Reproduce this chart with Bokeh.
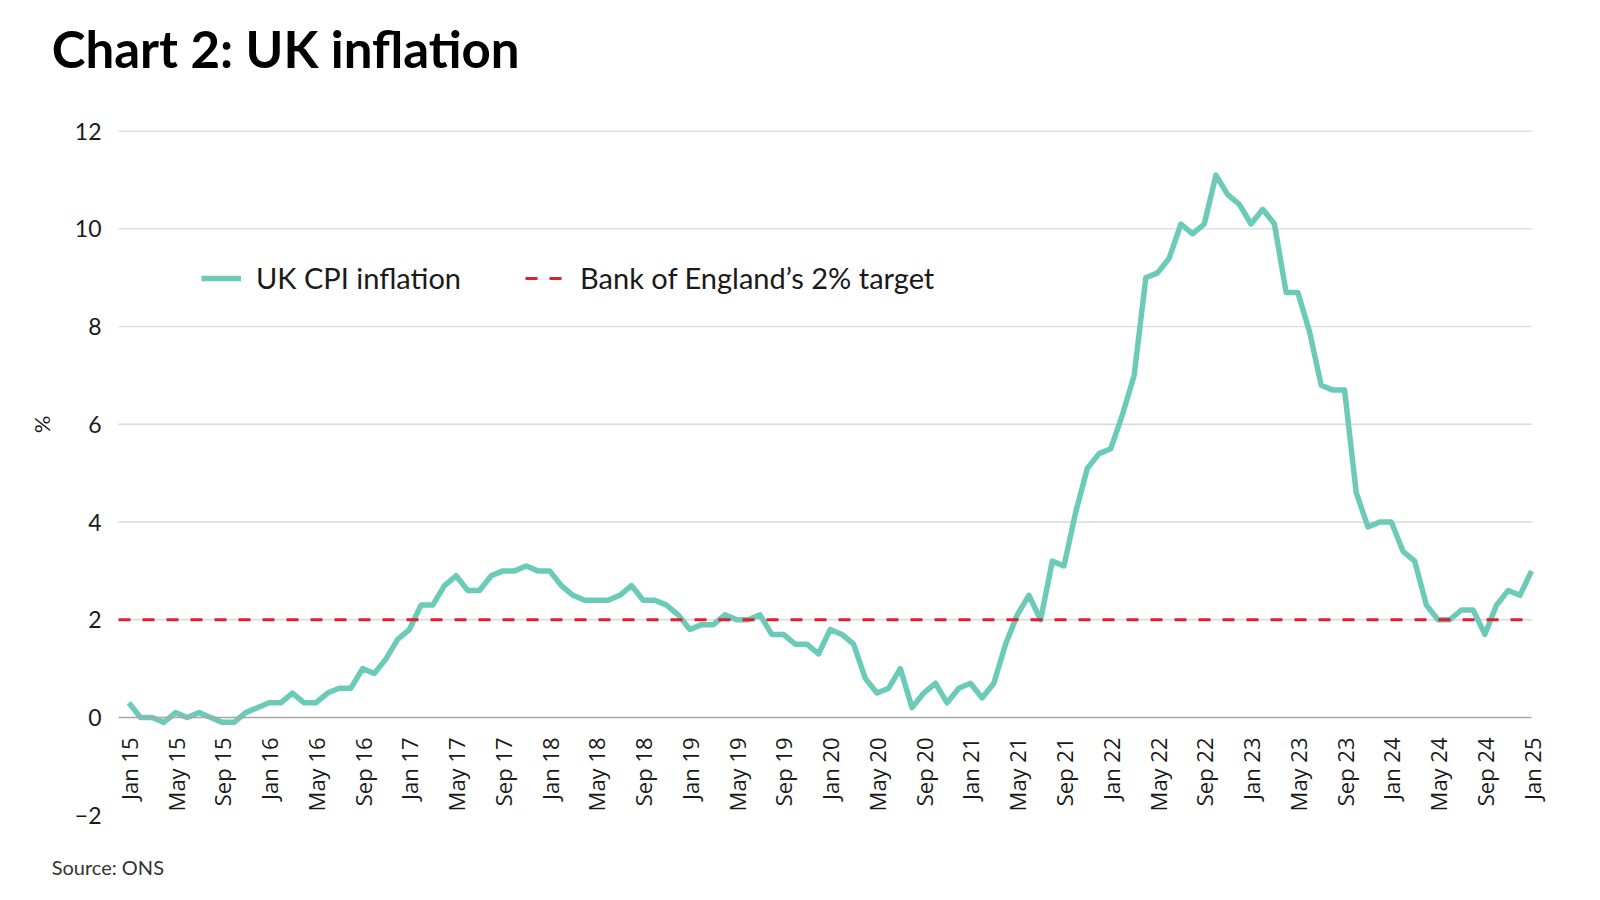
import math
from bokeh.plotting import figure
from bokeh.models import Range1d, FixedTicker, Legend, LegendItem, Label
from bokeh.embed import file_html
from bokeh.resources import INLINE

# ---------------- data ----------------
month_names = ["Jan", "Feb", "Mar", "Apr", "May", "Jun",
               "Jul", "Aug", "Sep", "Oct", "Nov", "Dec"]
years = list(range(2015, 2026))

cpi_2015 = [0.3, 0.0, 0.0, -0.1, 0.1, 0.0, 0.1, 0.0, -0.1, -0.1, 0.1, 0.2]
cpi_2016 = [0.3, 0.3, 0.5, 0.3, 0.3, 0.5, 0.6, 0.6, 1.0, 0.9, 1.2, 1.6]
cpi_2017 = [1.8, 2.3, 2.3, 2.7, 2.9, 2.6, 2.6, 2.9, 3.0, 3.0, 3.1, 3.0]
cpi_2018 = [3.0, 2.7, 2.5, 2.4, 2.4, 2.4, 2.5, 2.7, 2.4, 2.4, 2.3, 2.1]
cpi_2019 = [1.8, 1.9, 1.9, 2.1, 2.0, 2.0, 2.1, 1.7, 1.7, 1.5, 1.5, 1.3]
cpi_2020 = [1.8, 1.7, 1.5, 0.8, 0.5, 0.6, 1.0, 0.2, 0.5, 0.7, 0.3, 0.6]
cpi_2021 = [0.7, 0.4, 0.7, 1.5, 2.1, 2.5, 2.0, 3.2, 3.1, 4.2, 5.1, 5.4]
cpi_2022 = [5.5, 6.2, 7.0, 9.0, 9.1, 9.4, 10.1, 9.9, 10.1, 11.1, 10.7, 10.5]
cpi_2023 = [10.1, 10.4, 10.1, 8.7, 8.7, 7.9, 6.8, 6.7, 6.7, 4.6, 3.9, 4.0]
cpi_2024 = [4.0, 3.4, 3.2, 2.3, 2.0, 2.0, 2.2, 2.2, 1.7, 2.3, 2.6, 2.5]
cpi_2025 = [3.0]

cpi = (cpi_2015 + cpi_2016 + cpi_2017 + cpi_2018 + cpi_2019 + cpi_2020 +
       cpi_2021 + cpi_2022 + cpi_2023 + cpi_2024 + cpi_2025)

months = [f"{m} {y % 100:02d}" for y in years for m in month_names][:len(cpi)]
month_idx = list(range(len(cpi)))

target = 2.0
target_label = "Bank of England\u2019s 2% target"
cpi_label = "UK CPI inflation"

y_ticks = [-2, 0, 2, 4, 6, 8, 10, 12]
grid_ticks = [2, 4, 6, 8, 10, 12]
x_tick_step = 4
x_ticks = list(range(0, len(cpi), x_tick_step))

title_text = "Chart 2: UK inflation"
source_text = "Source: ONS"
y_title = "%"

# ---------------- layout / styles ----------------
TEAL = "#6CCBB8"
RED = "#E31E2D"
TEXT = "#1a1a1a"
W, H = 1584, 896
# the frame covers the whole canvas; the plotting area runs from
# x = PLOT_X0 (left edge) to the last month, y = -2 .. 12
PLOT_X0 = -0.88
x_last = month_idx[-1]
PX_PER_MONTH = 11.69
PX_PER_UNIT = 48.86
X0_PX = 128.3          # pixel position of month 0
Y_BOTTOM_PX = 814.7    # pixel position of y = -2
XLO = -X0_PX / PX_PER_MONTH
XHI = XLO + W / PX_PER_MONTH
YLO = -2 - (H - Y_BOTTOM_PX) / PX_PER_UNIT
YHI = YLO + H / PX_PER_UNIT

p = figure(width=W, height=H,
           x_range=Range1d(XLO, XHI), y_range=Range1d(YLO, YHI),
           output_backend="svg", toolbar_location=None,
           min_border=0, min_border_left=0, min_border_right=0,
           min_border_top=0, min_border_bottom=0)
p.title = None
p.outline_line_color = None
p.background_fill_color = "white"
p.border_fill_color = "white"

# grid lines
p.xgrid.visible = False
p.ygrid.visible = False
p.segment(x0=[PLOT_X0] * len(grid_ticks), y0=grid_ticks,
          x1=[x_last] * len(grid_ticks), y1=grid_ticks,
          line_color="#d9d9d9", line_width=1.4, level="underlay")

# y axis (labels only) at the left edge of the plotting area
p.yaxis.ticker = FixedTicker(ticks=y_ticks)
p.yaxis.fixed_location = PLOT_X0
p.yaxis.axis_line_color = None
p.yaxis.major_tick_line_color = None
p.yaxis.minor_tick_line_color = None
p.yaxis.major_tick_out = 0
p.yaxis.major_tick_in = 0
p.yaxis.major_label_standoff = 17
p.yaxis.major_label_text_font = "Lato"
p.yaxis.major_label_text_font_size = "23px"
p.yaxis.major_label_text_color = TEXT

# x axis at y = 0
p.xaxis.ticker = FixedTicker(ticks=x_ticks)
p.xaxis.major_label_overrides = {i: months[i] for i in x_ticks}
p.xaxis.major_label_orientation = math.pi / 2
p.xaxis.fixed_location = 0
p.xaxis.bounds = (PLOT_X0, x_last)
p.xaxis.axis_line_color = "#a6a6a6"
p.xaxis.axis_line_width = 1.5
p.xaxis.major_tick_line_color = None
p.xaxis.minor_tick_line_color = None
p.xaxis.major_tick_out = 0
p.xaxis.major_tick_in = 0
p.xaxis.major_label_standoff = 20
p.xaxis.major_label_text_font = "Open Sans"
p.xaxis.major_label_text_font_size = "22px"
p.xaxis.major_label_text_color = TEXT

# series
r_cpi = p.line(month_idx, cpi, line_color=TEAL, line_width=5.5, line_join="round")
r_target = p.line([PLOT_X0, x_last], [target, target], line_color=RED,
                  line_width=3, line_dash="12 12")

legend = Legend(items=[LegendItem(label=cpi_label, renderers=[r_cpi]),
                       LegendItem(label=target_label, renderers=[r_target])],
                location=(201, 589 + (H - 884)), orientation="horizontal",
                glyph_width=40, glyph_height=30, label_standoff=15, spacing=64,
                padding=0, margin=0, border_line_color=None,
                background_fill_alpha=0,
                label_text_font="Lato", label_text_font_size="29px",
                label_text_color=TEXT)
p.add_layout(legend)

# texts
p.add_layout(Label(x=-6.6, y=13.69, text=title_text, text_font="Lato",
                   text_font_style="bold", text_font_size="51px",
                   text_color="black", text_align="left",
                   text_baseline="alphabetic"))
p.add_layout(Label(x=-6.6, y=-3.07, text=source_text, text_font="Lato",
                   text_font_size="20px", text_color="#333333",
                   text_align="left", text_baseline="alphabetic"))
p.add_layout(Label(x=-7.5, y=6.0, text=y_title, text_font="Lato",
                   text_font_size="22px", text_color=TEXT, angle=math.pi / 2,
                   text_align="center", text_baseline="middle"))

open("out.html", "w").write(file_html(p, INLINE))
